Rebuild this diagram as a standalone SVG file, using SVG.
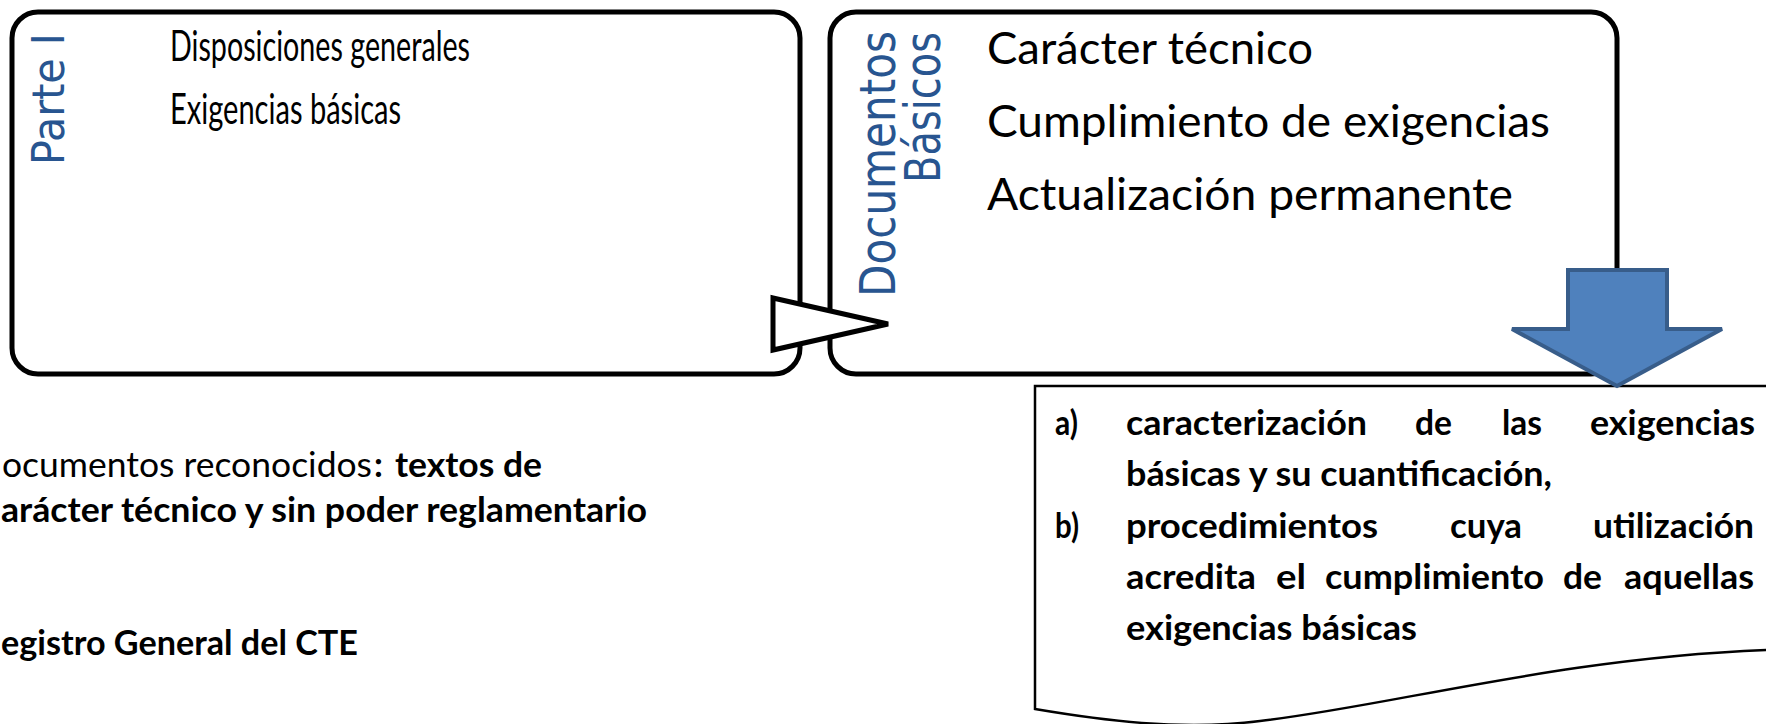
<svg xmlns="http://www.w3.org/2000/svg" width="1766" height="724" viewBox="0 0 1766 724">
<style>
.box{fill:#fff;stroke:#000;stroke-width:5}
.doc{fill:#fff;stroke:#000;stroke-width:2.5}
.t1{font-family:Lato,"Liberation Sans",sans-serif;font-size:43px;fill:#000}
.t2{font-family:Lato,"Liberation Sans",sans-serif;font-size:44.5px;fill:#000}
.n{font-family:Lato,"Liberation Sans",sans-serif;font-size:34.5px;fill:#000}
.b{font-weight:bold}
.v{font-family:"DejaVu Sans",Verdana,sans-serif;font-size:44px;fill:#285590}
.v2{font-family:"DejaVu Sans",Verdana,sans-serif;font-size:50px;fill:#285590}
.tri{fill:#fff;stroke:#000;stroke-width:5}
.blk{fill:#4F81BD;stroke:#385D8A;stroke-width:4}
</style>
<g id="node-parte1">
<rect class="box" x="12" y="12" width="788" height="362" rx="26"/>
<text class="v" transform="translate(64,165) rotate(-90)" textLength="132" lengthAdjust="spacingAndGlyphs">Parte I</text>
<text class="t1" x="170" y="61" textLength="300" lengthAdjust="spacingAndGlyphs">Disposiciones generales</text>
<text class="t1" x="170" y="124" textLength="231" lengthAdjust="spacingAndGlyphs">Exigencias básicas</text>
</g>
<g id="node-documentos">
<rect class="box" x="830" y="12" width="787" height="362" rx="26"/>
<text class="v2" transform="translate(895,297) rotate(-90)" textLength="266" lengthAdjust="spacingAndGlyphs">Documentos</text>
<text class="v2" transform="translate(940,183) rotate(-90)" textLength="151" lengthAdjust="spacingAndGlyphs">Básicos</text>
<text class="t2" x="987" y="64" textLength="326" lengthAdjust="spacingAndGlyphs">Carácter técnico</text>
<text class="t2" x="987" y="137" textLength="563" lengthAdjust="spacingAndGlyphs">Cumplimiento de exigencias</text>
<text class="t2" x="987" y="210" textLength="526" lengthAdjust="spacingAndGlyphs">Actualización permanente</text>
</g>
<g id="node-contenido">
<path class="doc" d="M1035,386 L1780,386 L1780,650 L1766,650 C1560,658 1390,706 1260,721 C1180,731 1100,720 1035,709 Z"/>
<g class="n b">
<text x="1055" y="435" textLength="23" lengthAdjust="spacingAndGlyphs">a)</text>
<text x="1126" y="435" textLength="241" lengthAdjust="spacingAndGlyphs">caracterización</text>
<text x="1415" y="435" textLength="37" lengthAdjust="spacingAndGlyphs">de</text>
<text x="1502" y="435" textLength="40" lengthAdjust="spacingAndGlyphs">las</text>
<text x="1590" y="435" textLength="165" lengthAdjust="spacingAndGlyphs">exigencias</text>
<text x="1126" y="486" textLength="426" lengthAdjust="spacingAndGlyphs">básicas y su cuantificación,</text>
<text x="1055" y="538" textLength="24" lengthAdjust="spacingAndGlyphs">b)</text>
<text x="1126" y="538" textLength="252" lengthAdjust="spacingAndGlyphs">procedimientos</text>
<text x="1450" y="538" textLength="72" lengthAdjust="spacingAndGlyphs">cuya</text>
<text x="1593" y="538" textLength="161" lengthAdjust="spacingAndGlyphs">utilización</text>
<text x="1126" y="589" textLength="130" lengthAdjust="spacingAndGlyphs">acredita</text>
<text x="1276" y="589" textLength="30" lengthAdjust="spacingAndGlyphs">el</text>
<text x="1325" y="589" textLength="219" lengthAdjust="spacingAndGlyphs">cumplimiento</text>
<text x="1563" y="589" textLength="39" lengthAdjust="spacingAndGlyphs">de</text>
<text x="1624" y="589" textLength="130" lengthAdjust="spacingAndGlyphs">aquellas</text>
<text x="1126" y="640" textLength="291" lengthAdjust="spacingAndGlyphs">exigencias básicas</text>
</g>
</g>
<g id="note">
<text class="n" x="2" y="477" textLength="370" lengthAdjust="spacingAndGlyphs">ocumentos reconocidos</text>
<text class="n b" x="374" y="477">:</text>
<text class="n b" x="395" y="477" textLength="147" lengthAdjust="spacingAndGlyphs">textos de</text>
<text class="n b" x="1" y="522" textLength="646" lengthAdjust="spacingAndGlyphs">arácter técnico y sin poder reglamentario</text>
<text class="n b" x="1" y="655" textLength="357" lengthAdjust="spacingAndGlyphs">egistro General del CTE</text>
</g>
<g id="connectors">
<polygon class="tri" points="773,298 888,324 773,350"/>
<polygon class="blk" points="1568,270 1667,270 1667,329 1722,329 1617,386 1512,329 1568,329"/>
</g>
</svg>
